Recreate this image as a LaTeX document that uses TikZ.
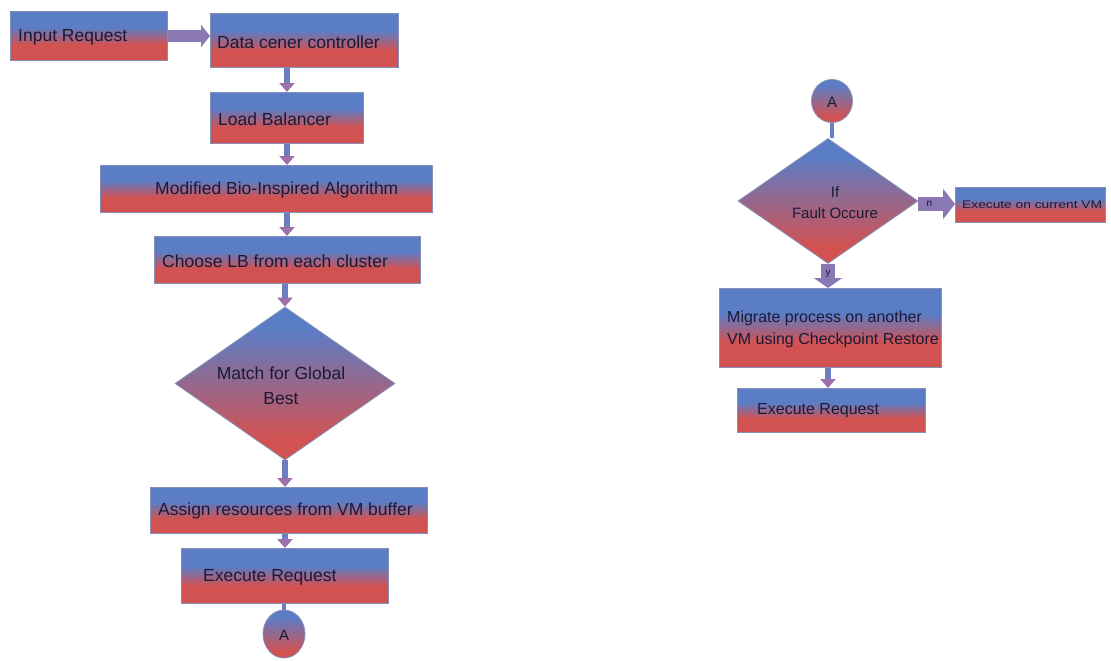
\documentclass[tikz,border=0pt]{standalone}
\usepackage{graphicx}
\usepackage{fontspec}
\setmainfont{Liberation Sans}
\usetikzlibrary{shapes.geometric,arrows.meta}
\definecolor{bxblue}{HTML}{5A7DC6}
\definecolor{bxred}{HTML}{D25252}
\definecolor{bxline}{HTML}{8391B8}
\definecolor{txtc}{HTML}{1A1A36}
\definecolor{arrc}{HTML}{6E7DC0}
\definecolor{arrh}{HTML}{9C70AA}
\definecolor{fatc}{HTML}{8A78B4}
\pgfdeclareverticalshading{bluered}{100bp}{color(0bp)=(bxred); color(25bp)=(bxred); color(41bp)=(bxred); color(59bp)=(bxblue); color(75bp)=(bxblue); color(100bp)=(bxblue)}
\pgfdeclareverticalshading{blueredsoft}{100bp}{color(0bp)=(bxred); color(25bp)=(bxred); color(32bp)=(bxred); color(68bp)=(bxblue); color(75bp)=(bxblue); color(100bp)=(bxblue)}
\tikzset{
  box/.style={rectangle, draw=bxline, line width=0.8pt, shading=bluered, inner sep=0pt, anchor=north west},
  dia/.style={diamond, draw=bxline, line width=0.8pt, shading=blueredsoft, inner sep=0pt},
  conn/.style={ellipse, draw=bxline, line width=0.8pt, shading=blueredsoft, inner sep=0pt},
  txt/.style={text=txtc, inner sep=0pt, anchor=west, font=\fontsize{17.5}{20}\selectfont},
  varrow/.style={draw=arrc, line width=6pt, -{Triangle[length=9pt,width=15pt,color=arrh]}},
  thinline/.style={draw=arrc, line width=3.5pt},
  fatarrow/.style={draw=fatc, line width=14pt, -{Triangle[length=12pt,width=30pt]}},
  lbl/.style={text=txtc, font=\fontsize{10}{11}\selectfont, inner sep=0pt}
}
\begin{document}
\begin{tikzpicture}[x=1pt,y=-1pt]
\useasboundingbox (0,0) rectangle (1111,661);
% ---------- left column ----------
\node[box, minimum width=157pt, minimum height=49pt] (inp) at (10,11) {};
\node[txt] (inpt) at (18,37) {Input Request};
\node[box, minimum width=188pt, minimum height=54pt] (dcc) at (210,13) {};
\node[txt] (dcct) at (217,42) {Data cener controller};
\node[box, minimum width=153pt, minimum height=51pt] (lb) at (210,92) {};
\node[txt] (lbt) at (218,119) {Load Balancer};
\node[box, minimum width=332pt, minimum height=47pt] (mba) at (100,165) {};
\node[txt] (mbat) at (155,190) {Modified Bio-Inspired Algorithm};
\node[box, minimum width=266pt, minimum height=47pt] (clb) at (154,236) {};
\node[txt] (clbt) at (162,261) {Choose LB from each cluster};
\node[dia, minimum width=220pt, minimum height=153pt] (d1) at (285,383.5) {};
\node[txt, anchor=center, align=center, font=\fontsize{17.5}{25}\selectfont] (d1t) at (281,386) {Match for Global\\Best};
\node[box, minimum width=277pt, minimum height=46pt] (arv) at (150,487) {};
\node[txt] (arvt) at (158,511) {Assign resources from VM buffer};
\node[box, minimum width=207pt, minimum height=55pt] (exl) at (181,548) {};
\node[txt] (exlt) at (203,577) {Execute Request};
\node[conn, minimum width=42pt, minimum height=48pt] (a1) at (284,634) {};
\node[txt, anchor=center, font=\fontsize{15}{18}\selectfont] (a1t) at (284,635) {A};
\coordinate (colL) at (287,0);
\coordinate (colD) at (285,0);
\draw[fatarrow, line width=12pt, -{Triangle[length=9pt,width=22pt]}] (inp.east |- 0,36) -- (dcc.west |- 0,36);
\draw[varrow] (dcc.south -| colL) -- (lb.north -| colL);
\draw[varrow] (lb.south -| colL) -- (mba.north -| colL);
\draw[varrow] (mba.south -| colL) -- (clb.north -| colL);
\draw[varrow] (clb.south -| colD) -- (d1.north);
\draw[varrow] (d1.south) -- (arv.north -| colD);
\draw[varrow] (arv.south -| colD) -- (exl.north -| colD);
\draw[thinline] (exl.south -| a1) -- (a1.north);
% ---------- right column ----------
\node[conn, minimum width=41pt, minimum height=43pt] (a2) at (832,101) {};
\node[txt, anchor=center, font=\fontsize{15}{18}\selectfont] (a2t) at (832,102) {A};
\node[dia, minimum width=180pt, minimum height=125pt] (d2) at (828,201) {};
\node[txt, anchor=center, align=center, font=\fontsize{15}{21}\selectfont] (d2t) at (835,203) {If\\Fault Occure};
\node[box, minimum width=150pt, minimum height=35pt] (cur) at (955,187) {};
\node[txt] (curt) at (962,205) {\scalebox{1.25}[1]{\fontsize{11}{13}\selectfont Execute on current VM}};
\node[box, minimum width=222pt, minimum height=79pt] (mig) at (719,288) {};
\node[txt, align=left, font=\fontsize{16}{22}\selectfont] (migt) at (727,329) {Migrate process on another\\VM using Checkpoint Restore};
\node[box, minimum width=188pt, minimum height=44pt] (exr) at (737,388) {};
\node[txt, font=\fontsize{16}{19}\selectfont] (exrt) at (757,411) {Execute Request};
\draw[thinline] (a2.south) -- (a2.south |- d2.north);
\draw[fatarrow] (d2.east |- 0,204) -- node[lbl, pos=0.3] {n} (cur.west |- 0,204);
\draw[fatarrow, -{Triangle[length=10pt,width=28pt]}] (d2.south) -- node[lbl, pos=0.4] {y} (mig.north -| d2.south);
\draw[varrow] (mig.south -| d2) -- (exr.north -| d2);
\end{tikzpicture}
\end{document}
